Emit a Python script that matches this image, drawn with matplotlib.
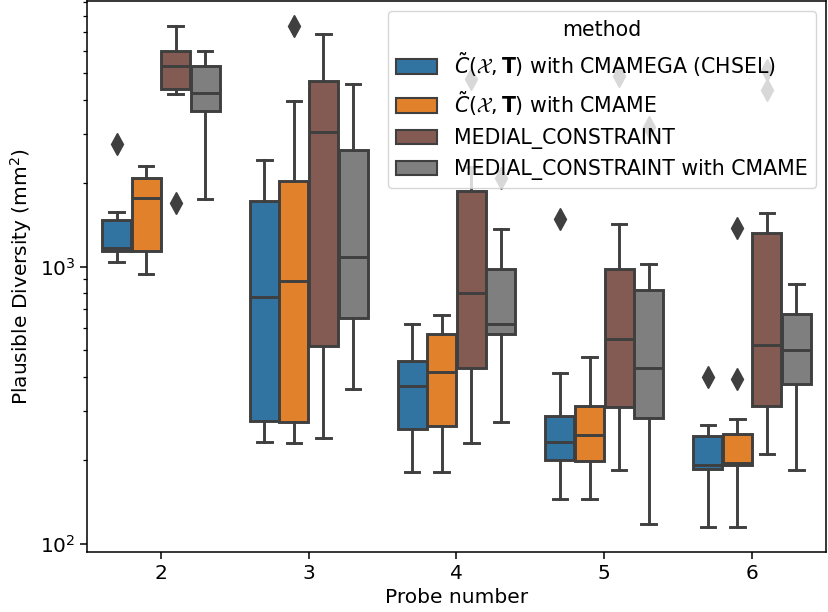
import matplotlib
matplotlib.use("Agg")
import matplotlib.pyplot as plt
from matplotlib.patches import Patch
import numpy as np

probes = ["2", "3", "4", "5", "6"]
methods = [r"$\tilde{C}(\mathcal{X}, \mathbf{T})$ with CMAMEGA (CHSEL)",
           r"$\tilde{C}(\mathcal{X}, \mathbf{T})$ with CMAME",
           "MEDIAL_CONSTRAINT",
           "MEDIAL_CONSTRAINT with CMAME"]
colors = ["#3274a1", "#e1812c", "#845b53", "#7f7f7f"]

# per method: lists over probes 2..6
whislo = [
    [1042, 232, 181, 145, 114.5],
    [941, 231, 181, 145, 114.5],
    [4184, 240, 231, 184, 210],
    [1755, 362, 275, 118, 184],
]
q1 = [
    [1142, 278, 259, 201, 186.5],
    [1142, 275, 266, 199, 191.6],
    [4373, 518, 429, 311, 315],
    [3652, 653, 570, 283, 377],
]
med = [
    [1165, 777, 371, 232, 192],
    [1774, 890, 415, 246, 195.4],
    [5307, 3060, 806, 547, 522],
    [4220, 1084, 620, 432, 501],
]
q3 = [
    [1474, 1730, 458, 290, 245],
    [2094, 2042, 573, 315, 248],
    [6012, 4673, 1880, 979, 1326],
    [5293, 2642, 981, 822, 673],
]
whishi = [
    [1571, 2420, 618, 413, 267],
    [2313, 3968, 668, 471, 282],
    [7380, 6887, 2294, 1422, 1558],
    [5996, 4547, 1368, 1023, 864],
]
fliers = [
    [[2763], [], [], [1482], [398]],
    [[], [7400], [], [], [394, 1382]],
    [[1701], [], [4752], [4872], [5120, 4335]],
    [[], [], [2094], [3198], []],
]

line_c = "#3f3f3f"
plt.rcParams["font.size"] = 14.5
plt.rcParams["axes.linewidth"] = 1.1

fig = plt.figure(figsize=(8.29, 6.12), dpi=100)
ax = fig.add_axes([87 / 829, 1 - 552 / 612, (826 - 87) / 829, (551) / 612])

offsets = [-0.3, -0.1, 0.1, 0.3]
for m in range(4):
    stats = []
    for p in range(len(probes)):
        stats.append(dict(whislo=whislo[m][p], q1=q1[m][p], med=med[m][p],
                          q3=q3[m][p], whishi=whishi[m][p], fliers=fliers[m][p]))
    pos = [p + offsets[m] for p in range(len(probes))]
    ax.bxp(stats, positions=pos, widths=0.196, patch_artist=True,
           boxprops=dict(facecolor=colors[m], edgecolor=line_c, linewidth=2.1),
           medianprops=dict(color=line_c, linewidth=2.1),
           whiskerprops=dict(color=line_c, linewidth=2.1),
           capprops=dict(color=line_c, linewidth=2.1),
           flierprops=dict(marker="d", markerfacecolor=line_c, markeredgecolor=line_c,
                           markersize=11, linestyle="none"),
           manage_ticks=False)

ax.set_yscale("log")
ax.set_ylim(93.3, 9085)
ax.set_xlim(-0.5, 4.5)
ax.set_xticks(range(len(probes)))
ax.set_xticklabels(probes)
ax.tick_params(which="major", length=4.9, width=1.1)
ax.tick_params(which="minor", length=2.8, width=0.9)
ax.set_xlabel("Probe number", labelpad=4)
ax.set_ylabel(r"Plausible Diversity (mm$^2$)")

handles = [Patch(facecolor=c, edgecolor=line_c, linewidth=1.5) for c in colors]
leg = ax.legend(handles, methods, title="method", loc="upper right",
                framealpha=0.8, handlelength=2.0, fontsize=14.8, title_fontsize=14.8)

fig.savefig("out.png", dpi=100)
